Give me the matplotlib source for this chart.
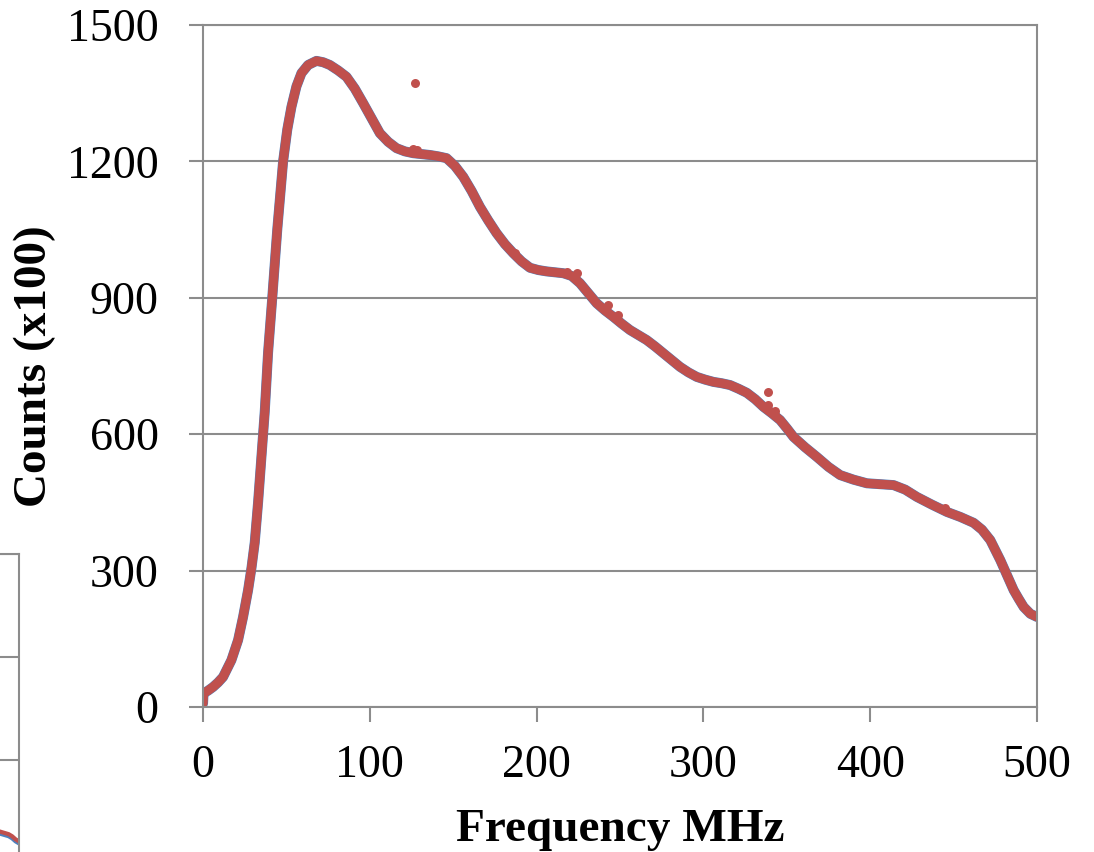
import matplotlib.pyplot as plt

plt.rcParams['font.family'] = ['Liberation Serif', 'DejaVu Serif']

# spectrum read-out, frequency (MHz) vs counts (x100)
freq = [0, 0.3, 3, 6, 9, 12, 17, 21, 24, 27, 29, 31, 33, 35, 37, 39, 41.5,
        44.5, 48, 50.5, 53, 56, 59, 63, 68, 72, 76, 81, 86, 91, 96, 101, 106,
        111, 116, 121, 126, 131, 136, 141, 146, 151, 156, 161, 166, 171, 176,
        181, 186, 191, 196, 201, 206, 211, 216, 221, 226, 231, 236, 241, 246,
        251, 256, 261, 266, 271, 276, 281, 286, 291, 296, 301, 306, 311, 316,
        321, 326, 331, 336, 341, 346, 350, 354, 361, 368, 375, 382, 390, 398,
        406, 414, 421, 428, 437, 446, 454, 462, 467, 472, 475, 478, 482, 486,
        489, 492, 496, 500]
counts = [8, 30, 36, 44, 54, 66, 103, 147, 198, 257, 305, 362, 450, 550, 650,
          780, 900, 1050, 1200, 1270, 1320, 1365, 1394, 1412, 1421, 1418, 1412,
          1400, 1386, 1360, 1328, 1295, 1262, 1243, 1229, 1222, 1218, 1216,
          1214, 1211, 1207, 1190, 1166, 1135, 1100, 1070, 1042, 1018, 998, 980,
          966, 961, 958, 956, 954, 948, 932, 910, 888, 872, 858, 843, 829, 818,
          807, 793, 778, 763, 748, 736, 726, 720, 715, 712, 708, 700, 691, 677,
          660, 646, 631, 613, 594, 571, 550, 528, 510, 500, 492, 490, 488, 478,
          462, 445, 429, 418, 405, 390, 367, 345, 323, 290, 257, 238, 220, 205,
          198]

# stray single readings
spike_f = [127, 126, 128, 187, 218, 224, 243, 249, 339, 339, 343, 405, 445]
spike_c = [1372, 1228, 1226, 999, 957, 955, 884, 862, 693, 664, 650, 490, 438]

# tail of the neighbouring panel
side_f = [470, 475, 480, 485, 490, 495, 500]
side_c = [31, 30, 29, 28, 26, 23, 21]

blue = '#4F81BD'
red = '#C0504D'
grey = '#8C8C8C'

fig = plt.figure(figsize=(10.94, 8.52), dpi=100)

# neighbouring panel, mostly off the page
ax2 = fig.add_axes([-0.3, -0.0129, 0.3174, 0.3627])
ax2.plot(side_f, [c - 2 for c in side_c], color=blue, lw=3)
ax2.plot(side_f, side_c, color=red, lw=3)
ax2.set_xlim(0, 500)
ax2.set_ylim(0, 300)
ax2.set_yticks([0, 100, 200, 300])
ax2.set_xticks([])
ax2.tick_params(left=False, labelleft=False)
ax2.grid(axis='y', color=grey, lw=1.5)
for s in ax2.spines.values():
    s.set_color(grey)
    s.set_linewidth(1.5)

ax = fig.add_axes([0.1856, 0.1702, 0.7623, 0.8005])
ax.plot(freq, counts, color=blue, lw=7.2, solid_capstyle='round',
        solid_joinstyle='round')
ax.plot(freq, counts, color=red, lw=6.6, solid_capstyle='round',
        solid_joinstyle='round')
ax.scatter(spike_f, spike_c, s=42, color=red, zorder=3, linewidths=0)

ax.set_xlim(0, 500)
ax.set_ylim(0, 1500)
ax.set_xticks(range(0, 501, 100))
ax.set_yticks(range(0, 1501, 300))
ax.grid(axis='y', color=grey, lw=1.5)
ax.set_axisbelow(True)
for s in ax.spines.values():
    s.set_color(grey)
    s.set_linewidth(1.5)
ax.tick_params(axis='y', direction='out', length=10, width=1.5, color=grey,
               labelsize=33, pad=22)
ax.tick_params(axis='x', direction='out', length=11, width=1.5, color=grey,
               labelsize=33, pad=16)

ax.set_xlabel('Frequency MHz', fontsize=34, fontweight='bold', labelpad=16)
ax.set_ylabel('Counts (x100)', fontsize=34, fontweight='bold', labelpad=8)

fig.savefig('out.png', dpi=100)
